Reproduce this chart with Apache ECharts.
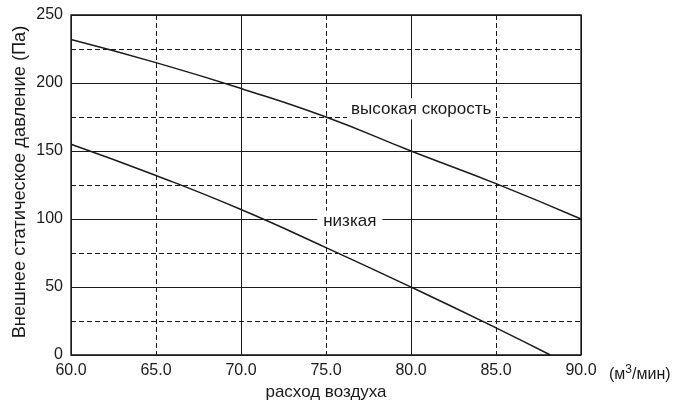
<!DOCTYPE html>
<html>
<head>
<meta charset="utf-8">
<script src="https://cdn.jsdelivr.net/npm/echarts@6/dist/echarts.min.js"></script>
<style>
  html, body { margin: 0; padding: 0; background: #fff; }
  #chart { width: 691px; height: 403px; }
</style>
</head>
<body>
<div id="chart"></div>
<script>
// данные
var highX = [60, 65, 70, 75, 80, 85, 90];
var highY = [232, 215, 196, 175, 150, 126, 100];
var lowX = [60, 65, 70, 75, 80, 85, 88.2];
var lowY = [155, 132, 107, 79, 50, 20, 0];
var highLabel = 'высокая скорость';
var lowLabel = 'низкая';

var font = 'Liberation Sans, Arial, sans-serif';
var ink = '#1a1a1a';

function pairs(xs, ys) {
    var out = [];
    for (var i = 0; i < xs.length; i++) out.push([xs[i], ys[i]]);
    return out;
}

var dash = { color: ink, width: 1, type: [5, 3] };
var solid = { color: ink, width: 1, type: 'solid' };

var chart = echarts.init(document.getElementById('chart'));

var option = {
    backgroundColor: '#fff',
    animation: false,
    textStyle: { fontFamily: font },
    grid: {
        left: 71, right: 110, top: 15, bottom: 48,
        outerBoundsMode: 'none', containLabel: false,
        show: true, borderColor: '#111', borderWidth: 1.3, backgroundColor: 'transparent'
    },
    xAxis: [{
        // пунктирная сетка каждые 5
        type: 'value', min: 60, max: 90, interval: 5,
        position: 'bottom',
        name: 'расход воздуха', nameLocation: 'middle', nameGap: 29,
        nameMoveOverlap: false,
        nameTextStyle: { color: ink, fontSize: 17, fontFamily: font },
        axisLine: { show: false }, axisTick: { show: false },
        axisLabel: {
            color: ink, fontSize: 16, fontFamily: font, margin: 8,
            formatter: function (v) { return v.toFixed(1); }
        },
        splitLine: { show: true, lineStyle: dash }
    }, {
        // сплошная сетка каждые 10
        type: 'value', min: 60, max: 90, interval: 10,
        position: 'bottom',
        axisLine: { show: false }, axisTick: { show: false },
        axisLabel: { show: false },
        splitLine: { show: true, lineStyle: solid }
    }],
    yAxis: [{
        type: 'value', min: 0, max: 250, interval: 25,
        axisLine: { show: false }, axisTick: { show: false },
        axisLabel: { show: false },
        splitLine: { show: true, lineStyle: dash }
    }, {
        type: 'value', min: 0, max: 250, interval: 50,
        position: 'left',
        name: 'Внешнее статическое давление (Па)', nameLocation: 'middle', nameGap: 42,
        nameMoveOverlap: false,
        nameTextStyle: { color: ink, fontSize: 18.3, fontFamily: font, padding: [0, 0, 0, 6] },
        axisLine: { show: false }, axisTick: { show: false },
        axisLabel: { color: ink, fontSize: 16, fontFamily: font, margin: 8 },
        splitLine: { show: true, lineStyle: solid }
    }],
    series: [{
        name: highLabel, type: 'line', xAxisIndex: 0, yAxisIndex: 0,
        data: pairs(highX, highY), showSymbol: false, smooth: true,
        lineStyle: { color: ink, width: 1.5 },
        markPoint: {
            symbol: 'rect', symbolSize: 0,
            label: {
                show: true, position: 'inside', formatter: highLabel,
                color: ink, fontSize: 17, fontFamily: font,
                backgroundColor: '#fff', padding: [2, 4]
            },
            data: [{ coord: [80.6, 181] }]
        }
    }, {
        name: lowLabel, type: 'line', xAxisIndex: 0, yAxisIndex: 0,
        data: pairs(lowX, lowY), showSymbol: false, smooth: true,
        lineStyle: { color: ink, width: 1.5 },
        markPoint: {
            symbol: 'rect', symbolSize: 0,
            label: {
                show: true, position: 'inside', formatter: lowLabel,
                color: ink, fontSize: 17, fontFamily: font,
                backgroundColor: '#fff', padding: [2, 6]
            },
            data: [{ coord: [76.4, 98.5] }]
        }
    }],
    graphic: [{
        type: 'text', left: 609, top: 364,
        style: {
            text: '{a|(м}{s|3}{a|/мин)}',
            rich: {
                a: { fontSize: 16, fontFamily: font, fill: ink, verticalAlign: 'bottom' },
                s: { fontSize: 12, fontFamily: font, fill: ink, verticalAlign: 'top', padding: [0, 0, 7, 0] }
            }
        }
    }]
};

chart.setOption(option);
</script>
</body>
</html>
